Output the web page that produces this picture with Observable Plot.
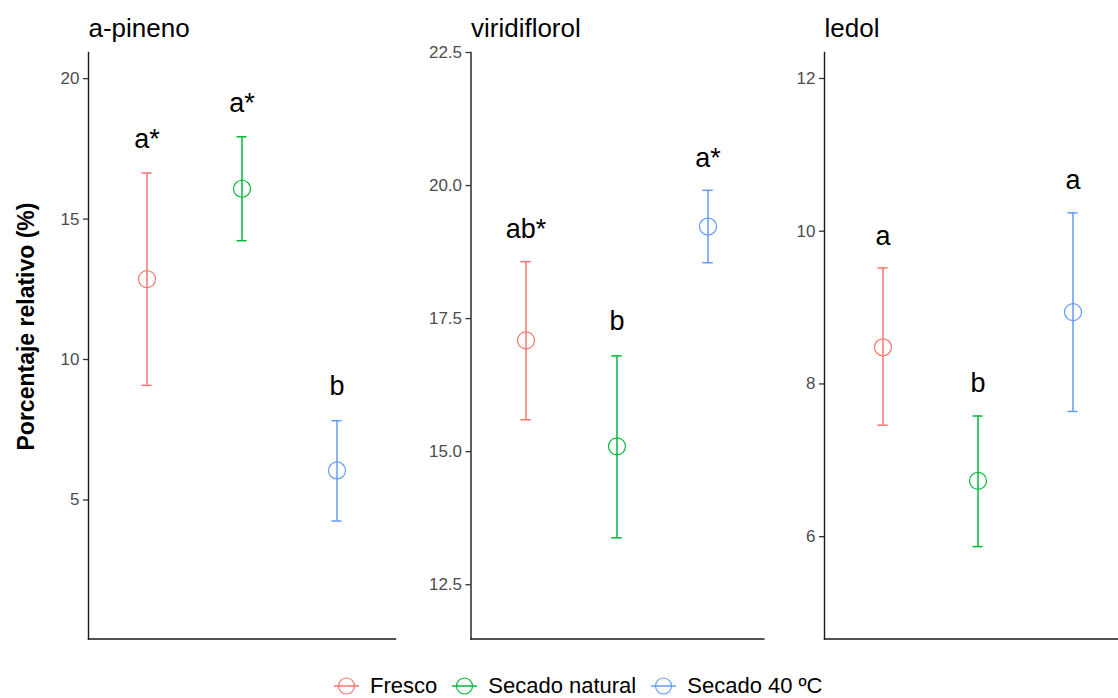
<!DOCTYPE html>
<html><head><meta charset="utf-8">
<script src="https://cdn.jsdelivr.net/npm/d3@7"></script>
<script src="https://cdn.jsdelivr.net/npm/@observablehq/plot@0.6"></script>
<style>
body{margin:0;background:#fff;}
#chart{position:relative;width:1118px;height:698px;overflow:hidden;font-family:"Liberation Sans",Arial,sans-serif;background:#fff;}
#chart .panel{position:absolute;top:0;}
#legend{position:absolute;left:333px;top:676.6px;height:18px;display:flex;align-items:center;font-size:22px;line-height:18px;color:#000;white-space:nowrap;}
#legend svg{margin-right:10px;}
#legend span{margin-right:14px;}
</style></head><body><div id="chart"></div>
<script>
// ---- data ----
const groups = ["Fresco", "Secado natural", "Secado 40 ºC"];
const groupColors = ["#F8766D", "#00BA38", "#619CFF"];
const compounds = ["a-pineno", "viridiflorol", "ledol"];
const yTitle = "Porcentaje relativo (%)";

const pinenoMean = [12.86, 16.08, 6.05];
const pinenoLow = [9.08, 14.23, 4.25];
const pinenoHigh = [16.64, 17.93, 7.82];
const pinenoLetters = ["a*", "a*", "b"];
const pinenoLetterY = [17.84, 19.11, 9.05];
const pinenoTicks = [5, 10, 15, 20];

const viridiMean = [17.09, 15.10, 19.23];
const viridiLow = [15.60, 13.38, 18.55];
const viridiHigh = [18.57, 16.80, 19.91];
const viridiLetters = ["ab*", "b", "a*"];
const viridiLetterY = [19.18, 17.44, 20.51];
const viridiTicks = [12.5, 15, 17.5, 20, 22.5];

const ledolMean = [8.48, 6.73, 8.94];
const ledolLow = [7.46, 5.87, 7.64];
const ledolHigh = [9.52, 7.58, 10.24];
const ledolLetters = ["a", "b", "a"];
const ledolLetterY = [9.93, 8.01, 10.67];
const ledolTicks = [6, 8, 10, 12];

// ---- layout ----
const font = '"Liberation Sans", Arial, sans-serif';
const panels = [
  {name: compounds[0], mean: pinenoMean, low: pinenoLow, high: pinenoHigh, letters: pinenoLetters, letterY: pinenoLetterY,
   ticks: pinenoTicks, fmt: d3.format("d"), domain: [0.05, 20.93], left: 0, marginLeft: 88, frameW: 307},
  {name: compounds[1], mean: viridiMean, low: viridiLow, high: viridiHigh, letters: viridiLetters, letterY: viridiLetterY,
   ticks: viridiTicks, fmt: d3.format(".1f"), domain: [11.48, 22.5], left: 400, marginLeft: 70.5, frameW: 292.8},
  {name: compounds[2], mean: ledolMean, low: ledolLow, high: ledolHigh, letters: ledolLetters, letterY: ledolLetterY,
   ticks: ledolTicks, fmt: d3.format("d"), domain: [4.66, 12.34], left: 770, marginLeft: 54, frameW: 307}
];

const chart = document.getElementById("chart");
const capHalf = 5.5;

for (const p of panels) {
  const rows = groups.map((g, i) => ({group: g, mean: p.mean[i], low: p.low[i], high: p.high[i], letter: p.letters[i], ly: p.letterY[i]}));
  const step = p.frameW / 3.2;
  const inset = step / 2 - capHalf;
  const svg = Plot.plot({
    width: p.marginLeft + p.frameW,
    height: 660,
    marginLeft: p.marginLeft,
    marginRight: 0,
    marginTop: 52,
    marginBottom: 21.5,
    style: {fontFamily: font, fontSize: "17px", background: "transparent", overflow: "visible"},
    x: {type: "band", domain: groups, paddingInner: 0, paddingOuter: 0.1, axis: null},
    y: {domain: p.domain, axis: null},
    color: {domain: groups, range: groupColors},
    marks: [
      Plot.axisY({ticks: p.ticks, tickFormat: p.fmt, tickSize: 5, tickPadding: 4, fill: "#4D4D4D", stroke: "#333333", strokeWidth: 1.3, fontSize: 17}),
      Plot.frame({anchor: "left", stroke: "#1a1a1a", strokeWidth: 1.4}),
      Plot.frame({anchor: "bottom", stroke: "#1a1a1a", strokeWidth: 1.4}),
      Plot.ruleX(rows, {x: "group", y1: "low", y2: "high", stroke: "group", strokeWidth: 1.5}),
      Plot.tickY(rows, {x: "group", y: "low", stroke: "group", strokeWidth: 1.5, insetLeft: inset, insetRight: inset}),
      Plot.tickY(rows, {x: "group", y: "high", stroke: "group", strokeWidth: 1.5, insetLeft: inset, insetRight: inset}),
      Plot.dot(rows, {x: "group", y: "mean", stroke: "group", r: 8.5, strokeWidth: 1.2, fill: "none"}),
      Plot.text(rows, {x: "group", y: "ly", text: "letter", fontSize: 27, fill: "#000", lineAnchor: "middle"}),
      Plot.text([p.name], {frameAnchor: "top-left", textAnchor: "start", lineAnchor: "middle", dy: -24.3, fontSize: 26, fill: "#000"})
    ]
  });
  svg.classList.add("panel");
  svg.style.left = p.left + "px";
  chart.appendChild(svg);
}

// y axis title
const ns = "http://www.w3.org/2000/svg";
const ov = document.createElementNS(ns, "svg");
ov.setAttribute("width", 60); ov.setAttribute("height", 698);
ov.style.position = "absolute"; ov.style.left = "0px"; ov.style.top = "0px";
const t = document.createElementNS(ns, "text");
t.setAttribute("transform", "translate(33.5,326.5) rotate(-90)");
t.setAttribute("text-anchor", "middle");
t.setAttribute("font-family", font);
t.setAttribute("font-size", "23");
t.setAttribute("font-weight", "bold");
t.textContent = yTitle;
ov.appendChild(t);
chart.appendChild(ov);

// legend
const leg = document.createElement("div");
leg.id = "legend";
groups.forEach((g, i) => {
  const s = document.createElementNS(ns, "svg");
  s.setAttribute("width", 27); s.setAttribute("height", 18);
  s.innerHTML = `<line x1="1" x2="26" y1="9" y2="9" stroke="${groupColors[i]}" stroke-width="1.5"/><circle cx="13.5" cy="9" r="8" fill="none" stroke="${groupColors[i]}" stroke-width="1.2"/>`;
  const sp = document.createElement("span");
  sp.textContent = g;
  leg.appendChild(s); leg.appendChild(sp);
});
chart.appendChild(leg);
</script></body></html>
